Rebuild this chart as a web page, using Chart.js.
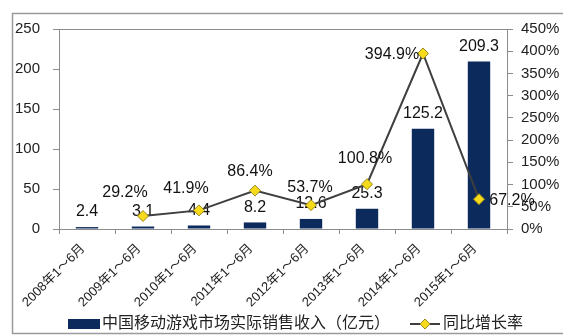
<!DOCTYPE html>
<html>
<head>
<meta charset="utf-8">
<script src="https://cdn.jsdelivr.net/npm/chart.js@4.4.1/dist/chart.umd.min.js"></script>
<style>
  html, body { margin: 0; padding: 0; background: #fff; }
  #wrap { width: 563px; height: 335px; }
</style>
</head>
<body>
<div id="wrap"><canvas id="graf" width="563" height="335"></canvas></div>
<script>
// data
var kategorier = ["2008年1～6月", "2009年1～6月", "2010年1～6月", "2011年1～6月",
  "2012年1～6月", "2013年1～6月", "2014年1～6月", "2015年1～6月"];
var indtaegt = [2.4, 3.1, 4.4, 8.2, 12.6, 25.3, 125.2, 209.3];
var vaekst = [null, 29.2, 41.9, 86.4, 53.7, 100.8, 394.9, 67.2];
var venstreTicks = [0, 50, 100, 150, 200, 250];
var hoejreTicks = [0, 50, 100, 150, 200, 250, 300, 350, 400, 450];

var navnBar = "中国移动游戏市场实际销售收入（亿元）";
var navnLinje = "同比增长率";

// placering af procent-etiketter (forskydning fra punktet)
var linjeLabelDx = [0, -18, -13, -5, -1, -2, -31, 33];
var linjeLabelDy = [0, -23, -22, -19, -18, -26, 1, 1];

var FONT = "'Liberation Sans', Arial, 'Noto Sans CJK SC', sans-serif";
var barFarve = "#0c2a5c";
var linjeFarve = "#3f3f3f";
var punktFarve = "#f6da1c";
var punktKant = "#9c8a1c";
var aksefarve = "#8c8c8c";

// ramme og topkant af plotomraadet
var rammePlugin = {
  id: "ramme",
  beforeDraw: function (chart) {
    var c = chart.ctx;
    var a = chart.chartArea;
    c.save();
    c.fillStyle = "#fff";
    c.fillRect(0, 0, chart.width, chart.height);
    c.strokeStyle = "#9a9a9a";
    c.lineWidth = 1.5;
    c.strokeRect(12.5, 13.5, 560, 320);
    c.strokeStyle = aksefarve;
    c.lineWidth = 1;
    c.beginPath();
    c.moveTo(a.left, a.top + 0.5);
    c.lineTo(a.right, a.top + 0.5);
    c.stroke();
    c.restore();
  },
};

// talvaerdier over soejler og punkter
var etiketPlugin = {
  id: "etiketter",
  afterDatasetDraw: function (chart, args) {
    var c = chart.ctx;
    var ds = chart.data.datasets[args.index];
    var meta = args.meta;
    c.save();
    c.font = "16px " + FONT;
    c.fillStyle = "#111";
    c.textAlign = "center";
    c.textBaseline = "middle";
    if (ds.type === "bar") {
      meta.data.forEach(function (el, i) {
        c.fillText(ds.data[i].toFixed(1), el.x, el.y - 15);
      });
    } else {
      meta.data.forEach(function (el, i) {
        if (ds.data[i] === null) return;
        c.fillText(ds.data[i].toFixed(1) + "%", el.x + linjeLabelDx[i], el.y + linjeLabelDy[i]);
      });
    }
    c.restore();
  },
};

// forklaring nederst
var forklaringPlugin = {
  id: "forklaring",
  afterDraw: function (chart) {
    var c = chart.ctx;
    var y = 324;
    c.save();
    c.font = "16px " + FONT;
    c.textBaseline = "middle";
    c.textAlign = "left";
    c.fillStyle = barFarve;
    c.fillRect(68, y - 5, 32, 10);
    c.fillStyle = "#222";
    c.fillText(navnBar, 102, y);
    c.strokeStyle = linjeFarve;
    c.lineWidth = 2;
    c.beginPath();
    c.moveTo(410, y);
    c.lineTo(440, y);
    c.stroke();
    c.beginPath();
    c.moveTo(425, y - 5);
    c.lineTo(430, y);
    c.lineTo(425, y + 5);
    c.lineTo(420, y);
    c.closePath();
    c.fillStyle = punktFarve;
    c.fill();
    c.strokeStyle = punktKant;
    c.lineWidth = 1;
    c.stroke();
    c.fillStyle = "#222";
    c.fillText(navnLinje, 443, y);
    c.restore();
  },
};

var ctx = document.getElementById("graf").getContext("2d");
var graf = new Chart(ctx, {
  type: "bar",
  data: {
    labels: kategorier,
    datasets: [
      {
        type: "bar",
        label: navnBar,
        data: indtaegt,
        backgroundColor: barFarve,
        borderWidth: 0,
        yAxisID: "y",
        categoryPercentage: 1,
        barPercentage: 0.4,
        order: 1,
      },
      {
        type: "line",
        label: navnLinje,
        data: vaekst,
        borderColor: linjeFarve,
        borderWidth: 2,
        pointStyle: "rectRot",
        pointRadius: 5.5,
        pointBackgroundColor: punktFarve,
        pointBorderColor: punktKant,
        pointBorderWidth: 1,
        tension: 0,
        yAxisID: "y1",
        order: 0,
      },
    ],
  },
  options: {
    responsive: false,
    animation: false,
    events: [],
    layout: { padding: { left: 0, right: 0, top: 29, bottom: 0 } },
    plugins: {
      legend: { display: false },
      tooltip: { enabled: false },
    },
    scales: {
      x: {
        grid: { display: true, drawOnChartArea: false, offset: true, color: aksefarve, tickLength: 5 },
        border: { color: aksefarve },
        ticks: {
          minRotation: 45,
          maxRotation: 45,
          autoSkip: false,
          padding: 7,
          labelOffset: -4,
          color: "#222",
          font: { family: FONT, size: 13 },
        },
        afterFit: function (s) { s.height = 106; },
      },
      y: {
        position: "left",
        min: 0,
        max: 250,
        afterBuildTicks: function (s) { s.ticks = venstreTicks.map(function (v) { return { value: v }; }); },
        grid: { display: true, drawOnChartArea: false, color: aksefarve, tickLength: 6 },
        border: { color: aksefarve },
        ticks: { padding: 13, color: "#222", font: { family: FONT, size: 15 } },
        afterFit: function (s) { s.width = 59; },
      },
      y1: {
        position: "right",
        min: 0,
        max: 450,
        afterBuildTicks: function (s) { s.ticks = hoejreTicks.map(function (v) { return { value: v }; }); },
        grid: { display: true, drawOnChartArea: false, color: aksefarve, tickLength: 6 },
        border: { color: aksefarve },
        ticks: {
          padding: 8,
          color: "#222",
          font: { family: FONT, size: 15 },
          callback: function (v) { return v + "%"; },
        },
        afterFit: function (s) { s.width = 56; },
      },
    },
  },
  plugins: [rammePlugin, etiketPlugin, forklaringPlugin],
});
</script>
</body>
</html>
